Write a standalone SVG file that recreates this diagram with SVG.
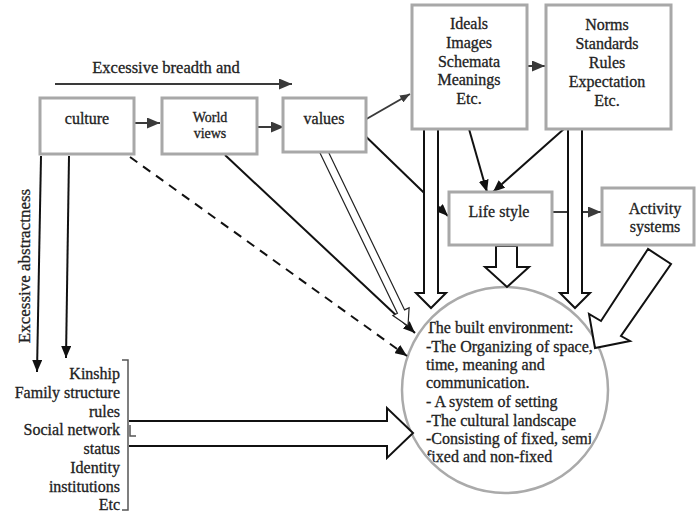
<svg xmlns="http://www.w3.org/2000/svg" width="696" height="512" viewBox="0 0 696 512">
<style>
text{font-family:"Liberation Serif","Times New Roman",serif;fill:#222;stroke:#222;stroke-width:0.3;font-size:16px}
.box{fill:#fff;stroke:#a8a8a8;stroke-width:3}
.c{text-anchor:middle}
.r{text-anchor:end}
.ln{fill:none;stroke:#111;stroke-width:2}
.gl{fill:none;stroke:#3a3a3a;stroke-width:2}
.hol{fill:#fff;stroke:#111;stroke-width:2;stroke-linejoin:miter}
.thin{fill:#fff;stroke:#222;stroke-width:1.2}
</style>
<defs>
<marker id="ah" viewBox="0 0 12 10" refX="12" refY="5" markerWidth="12" markerHeight="10" markerUnits="userSpaceOnUse" orient="auto-start-reverse"><path d="M0,0 L12,5 L0,10 z" fill="#111"/></marker>
<marker id="ag" viewBox="0 0 13 11" refX="13" refY="5.5" markerWidth="13" markerHeight="11" markerUnits="userSpaceOnUse" orient="auto-start-reverse"><path d="M0,0 L13,5.5 L0,11 z" fill="#3a3a3a"/></marker>
<marker id="as" viewBox="0 0 10 8" refX="10" refY="4" markerWidth="10" markerHeight="8" markerUnits="userSpaceOnUse" orient="auto-start-reverse"><path d="M0,0 L10,4 L0,8 z" fill="#3a3a3a"/></marker>
<clipPath id="cc"><circle cx="505" cy="390" r="101"/></clipPath>
</defs>

<g id="circle-node">
<circle cx="505" cy="390" r="103" fill="#fff" stroke="#aaa" stroke-width="2.5"/>
<g clip-path="url(#cc)">
<text x="426" y="333">The built environment:</text>
<text x="426" y="352">-The Organizing of space,</text>
<text x="426" y="370">time, meaning and</text>
<text x="426" y="388">communication.</text>
<text x="426" y="407">- A system of setting</text>
<text x="426" y="426">-The cultural landscape</text>
<text x="426" y="444">-Consisting of fixed, semi</text>
<text x="426" y="462">fixed and non-fixed</text>
</g>
</g>

<g id="connectors">
<line class="gl" x1="55" y1="84" x2="292" y2="84" marker-end="url(#ag)"/>
<line class="gl" x1="135" y1="123" x2="160" y2="123" marker-end="url(#ag)"/>
<line class="gl" x1="247" y1="127" x2="284" y2="127" marker-end="url(#ag)"/>
<line class="gl" x1="356" y1="125" x2="410" y2="94" marker-start="url(#as)" marker-end="url(#as)"/>
<line class="gl" x1="512" y1="66" x2="545" y2="66" marker-end="url(#ag)"/>
<line class="ln" x1="469" y1="129" x2="487" y2="192" marker-end="url(#ah)"/>
<line class="ln" x1="565" y1="128" x2="493" y2="192" marker-end="url(#ah)"/>
<line class="ln" x1="356" y1="127" x2="448" y2="216" marker-end="url(#ah)"/>
<line class="gl" x1="552" y1="212" x2="601" y2="212" marker-end="url(#ag)"/>
<line class="ln" x1="130" y1="157" x2="407" y2="356" stroke-dasharray="9,7" marker-end="url(#ah)"/>
<line class="ln" x1="225" y1="155" x2="415" y2="333" marker-end="url(#ah)"/>
<line class="ln" x1="41" y1="156" x2="37" y2="372" marker-end="url(#ah)"/>
<line class="ln" x1="69" y1="156" x2="66" y2="358" marker-end="url(#ah)"/>
<path class="hol" d="M424,128 V293 H416 L431,308 L446,293 H438 V128"/>
<path class="hol" d="M568,128 V293 H560 L575,308 L590,293 H582 V128"/>
<path class="hol" d="M496,246 V267 H485 L507,287 L529,267 H517 V246 Z"/>
<path class="hol" d="M648,249 L601,321 L589,314 L595,348 L630,341 L621,336 L671,264 Z"/>
<path class="thin" d="M319.4,151.7 L397.4,313.3 L392.9,315.5 L408,326 L409.1,307.7 L404.6,309.9 L326.6,148.3"/>
<path class="hol" d="M129,421 H387 V408 L413,433 L387,458 V446 H129"/>
<path d="M122,360 H128 V510 H122" fill="none" stroke="#555" stroke-width="1.5"/>
<path d="M130,425 V436 H136" fill="none" stroke="#555" stroke-width="1.5"/>
</g>

<text x="166" y="73" class="c" style="font-size:16.5px">Excessive breadth and</text>
<text transform="translate(30,266) rotate(-90)" class="c" style="font-size:17px">Excessive abstractness</text>

<g id="culture">
<rect class="box" x="40" y="98" width="94" height="56"/>
<text x="87" y="124" class="c">culture</text>
</g>
<g id="world-views">
<rect class="box" x="162" y="98" width="95" height="56"/>
<text x="210" y="122" class="c" style="font-size:14px">World</text>
<text x="210" y="138" class="c" style="font-size:14px">views</text>
</g>
<g id="values">
<rect class="box" x="283" y="98" width="83" height="54"/>
<text x="324" y="124" class="c">values</text>
</g>
<g id="ideals">
<rect class="box" x="412" y="5" width="115" height="124"/>
<text x="469" y="29" class="c">Ideals</text>
<text x="469" y="48" class="c">Images</text>
<text x="469" y="67" class="c">Schemata</text>
<text x="469" y="85" class="c">Meanings</text>
<text x="469" y="104" class="c">Etc.</text>
</g>
<g id="norms">
<rect class="box" x="546" y="5" width="125" height="124"/>
<text x="607" y="30" class="c">Norms</text>
<text x="607" y="49" class="c">Standards</text>
<text x="607" y="68" class="c">Rules</text>
<text x="607" y="87" class="c">Expectation</text>
<text x="607" y="106" class="c">Etc.</text>
</g>
<g id="life-style">
<rect class="box" x="449" y="192" width="103" height="53"/>
<text x="499" y="217" class="c">Life style</text>
</g>
<g id="activity-systems">
<rect class="box" x="602" y="188" width="92" height="57"/>
<text x="655" y="214" class="c">Activity</text>
<text x="655" y="232" class="c">systems</text>
</g>
<g id="social-list">
<text x="120" y="379" class="r">Kinship</text>
<text x="120" y="398" class="r">Family structure</text>
<text x="120" y="417" class="r">rules</text>
<text x="120" y="435" class="r">Social network</text>
<text x="120" y="454" class="r">status</text>
<text x="120" y="473" class="r">Identity</text>
<text x="120" y="492" class="r">institutions</text>
<text x="120" y="510" class="r">Etc</text>
</g>
</svg>
